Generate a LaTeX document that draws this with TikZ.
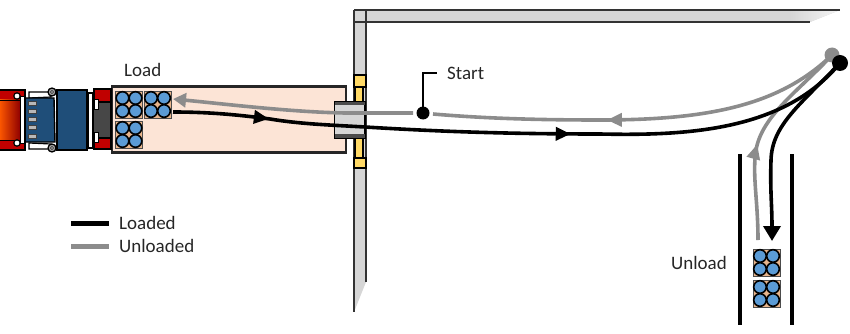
\documentclass[tikz,border=0pt]{standalone}
\usepackage{fontspec}
\setmainfont{Carlito}
\usetikzlibrary{arrows.meta,decorations.markings}
\definecolor{wallgray}{HTML}{D6D6D6}
\definecolor{trailer}{HTML}{FCE4D6}
\definecolor{dockyellow}{HTML}{FFD966}
\definecolor{crate}{HTML}{E8B58C}
\definecolor{roll}{HTML}{5B9BD5}
\definecolor{cabblue}{HTML}{1F4E79}
\definecolor{cabred}{HTML}{C00000}
\definecolor{pathgray}{HTML}{8C8C8C}
\tikzset{
  x=1pt,y=-1pt,
  wallline/.style={draw=black!80,line width=2pt},
  loaded/.style={draw=black,line width=3.6pt},
  unloaded/.style={draw=pathgray,line width=3.6pt},
  label/.style={font=\fontsize{19}{21}\selectfont,text=black!85,inner sep=0pt},
  midtip/.style args={#1 at #2}{postaction={decorate},decoration={markings,
    mark=at position #2 with {\arrow[#1]{Triangle[length=15pt,width=13pt]}}}},
  midtips/.style args={#1 at #2 and #3}{postaction={decorate},decoration={markings,
    mark=at position #2 with {\arrow[#1]{Triangle[length=15pt,width=13pt]}},
    mark=at position #3 with {\arrow[#1]{Triangle[length=15pt,width=13pt]}}}},
  pallet/.pic={
    \fill[crate] (-13.5,-13.5) rectangle (13.5,13.5);
    \draw[black!70,line width=0.8pt] (-13.5,-13.5) rectangle (13.5,13.5);
    \foreach \cx/\cy in {-6.5/-6.5,6.5/-6.5,-6.5/6.5,6.5/6.5}
      \draw[black,fill=roll,line width=1.6pt] (\cx,\cy) circle (6.3);
  }
}
\begin{document}
\begin{tikzpicture}
\useasboundingbox (0,0) rectangle (850,334);

% building walls with slanted free ends
\fill[wallgray] (354,10) -- (840,10) -- (810,22) -- (354,22) -- cycle;
\shade[left color=wallgray,right color=wallgray!25] (790,10) -- (840,10) -- (810,22) -- (790,22) -- cycle;
\fill[wallgray] (354,10) -- (366,10) -- (366,282) -- (354,312) -- cycle;
\draw[wallline] (354,10) -- (840,10) (366,22) -- (810,22) (354,22) -- (366,22);
\draw[wallline] (354,10) -- (354,312) (366,10) -- (366,282);

% dock door tracks
\foreach \ya/\yb in {87/102,138/158}
  \draw[black,fill=dockyellow,line width=1.2pt] (355,\ya) rectangle (363,\yb);
\foreach \ya/\yb in {75/87,158/168}
  \draw[black,fill=dockyellow,line width=1.4pt] (354,\ya) rectangle (366,\yb);

% trailer body
\node[draw=black!85,fill=trailer,line width=2.6pt,inner sep=0pt,minimum width=234pt,minimum height=66pt] (body) at (229,119.5) {};

% tractor: rear frame and fifth wheel
\draw[black,fill=cabred,line width=1.4pt] (94,89) rectangle (111,149);
\draw[black,fill=black!72,line width=1.2pt] (93,102) rectangle (111,138);
\draw[black,fill=white,line width=0.7pt] (94,99) rectangle (98,109);
\draw[black,fill=white,line width=0.7pt] (94,132) rectangle (98,142);
\draw[black,fill=white,line width=1.2pt] (88,93) rectangle (93,148);
% sleeper and hood
\draw[black,fill=cabblue,line width=1.4pt] (57,90) rectangle (87,150);
\draw[black,fill=white,line width=1.2pt] (29,92) -- (51,92) -- (51,97) -- (29,98) -- cycle;
\draw[black,fill=white,line width=1.2pt] (29,143) -- (51,144) -- (51,149) -- (29,149) -- cycle;
\draw[black,fill=cabblue,line width=1.4pt] (25,98) -- (54,98) -- (55,142) -- (25,142) -- cycle;
\foreach \yy in {103,111,119,127,136}
  \draw[black!75,fill=black!28,line width=0.5pt] (28,\yy-2) rectangle (36,\yy+2);
% front bumper
\draw[black,fill=cabred,line width=1.2pt] (-2,90) rectangle (25,150);
\shade[left color=orange!70!red,right color=cabred!75!black] (-1,100) rectangle (20,140);
\draw[black,line width=0.8pt] (-1,100) -- (20,100) (-1,140) -- (20,140);
\draw[black,fill=white,line width=1pt] (20.5,97) rectangle (24.5,143);
\draw[black,fill=white,line width=1.2pt] (17,96) circle (3.2);
\draw[black,fill=white,line width=1.2pt] (17,143) circle (3.2);
% mirrors
\draw[black,fill=black!35,line width=1.3pt] (52,92) circle (4);
\draw[black,fill=black!35,line width=1.3pt] (52,148) circle (4);
\draw[black,fill=white,line width=0.4pt] (52,92) circle (1.5);
\draw[black,fill=white,line width=0.4pt] (52,148) circle (1.5);

% pallets in the trailer and the unload lane
\pic at (129,104.5) {pallet};
\pic at (157.5,104.5) {pallet};
\pic at (129,134.5) {pallet};
\pic at (766.5,262.5) {pallet};
\pic at (766.5,293.5) {pallet};

% unload lane
\draw[black,line width=4pt] (740,154) -- (740,325) (792,154) -- (792,325);

% door seal at the trailer opening
\draw[black,fill=wallgray,line width=1.6pt] (334.5,101.5) rectangle (365,138);
\fill[black!70] (335,102) rectangle (364.5,105);
\fill[black!70] (335,134) rectangle (364.5,137.5);

% routes
\coordinate (turn) at (832,55);
\coordinate (turnb) at (840,63);
\coordinate (startpt) at (423,113);
\coordinate (unloadgray) at (758,240);
\coordinate (unloadblack) at (772,241);
\coordinate (palletgray) at (173,99);
\coordinate (palletblack) at (173,112);
\coordinate (gapr) at (433,114);
\coordinate (gapl) at (413,113);
\draw[unloaded,midtip={pathgray at 0.58}] (turn) .. controls (780,105) and (710,120) .. (600,120)
  .. controls (530,120) and (480,118) .. (gapr);
\draw[unloaded,-{Triangle[length=13pt,width=14pt]}] (gapl) -- (345,113) .. controls (290,112) and (225,104) .. (palletgray);
\draw[unloaded,midtip={pathgray at 0.45}] (unloadgray) .. controls (758,200) and (752,175) .. (756,150)
  .. controls (762,115) and (800,90) .. (turn);
\draw[loaded,midtips={black at 0.14 and 0.58}] (palletblack) .. controls (210,112) and (240,115) .. (270,119)
  .. controls (300,124) and (330,125) .. (365,127)
  .. controls (430,131) and (500,134) .. (600,134)
  .. controls (690,136) and (785,130) .. (turnb);
\draw[loaded,-{Triangle[length=15pt,width=17pt]}] (turnb) .. controls (800,105) and (772,125) .. (771,160)
  .. controls (770,190) and (772,205) .. (unloadblack);
\fill[pathgray] (turn) circle (7.5);
\fill[black] (turnb) circle (8);

% start marker and its leader
\coordinate (leader) at (437,73);
\fill[black] (startpt) circle (6.5);
\draw[black,line width=2pt] (startpt) -- (423,73) -- (leader);

% labels
\node[label,anchor=west] (loadtxt) at (124,70) {Load};
\node[label,anchor=west] (starttxt) at (447,73) {Start};
\node[label,anchor=west] (unloadtxt) at (671,263) {Unload};
\node[label,anchor=west] (loadedtxt) at (119,223) {Loaded};
\node[label,anchor=west] (unloadedtxt) at (119,246) {Unloaded};

% legend lines
\coordinate (keya) at (71,223);
\coordinate (keyb) at (109,223);
\coordinate (keyc) at (71,246);
\coordinate (keyd) at (109,246);
\draw[loaded,line width=5pt] (keya) -- (keyb);
\draw[unloaded,line width=5pt] (keyc) -- (keyd);
\end{tikzpicture}
\end{document}
